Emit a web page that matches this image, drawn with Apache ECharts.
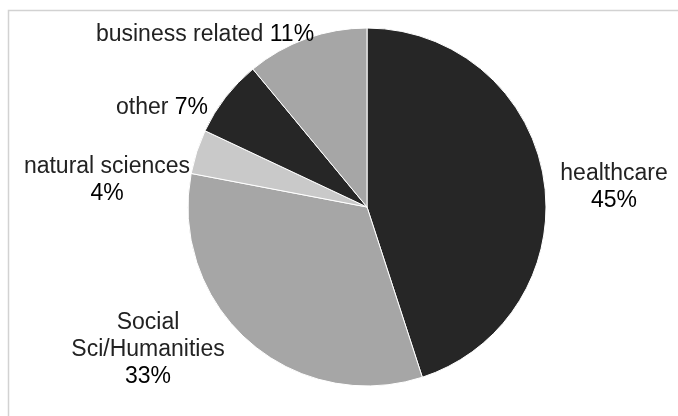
<!DOCTYPE html>
<html>
<head>
<meta charset="utf-8">
<script src="https://cdn.jsdelivr.net/npm/echarts@6/dist/echarts.min.js"></script>
<style>html,body{margin:0;padding:0;background:#fff}#c{width:678px;height:416px}</style>
</head>
<body>
<div id="c"></div>
<script>
// Data
const categories = ['healthcare', 'Social\nSci/Humanities', 'natural sciences', 'other', 'business related'];
const values = [45, 33, 4, 7, 11];
const colors = ['#262626', '#a6a6a6', '#c9c9c9', '#262626', '#a6a6a6'];
// separator between category name and percentage in each label
const pctSeparator = ['\n', '\n', '\n', ' ', ' '];

// label anchor layout (pixels)
const labelPos = [[614, 187], [148, 350], [107, 180], [162, 108], [205, 35]];

const chart = echarts.init(document.getElementById('c'), null, {renderer: 'canvas'});
chart.setOption({
  animation: false,
  graphic: [{
    type: 'rect',
    shape: {x: 8.5, y: 10.5, width: 720, height: 460},
    style: {fill: 'none', stroke: '#d2d2d2', lineWidth: 1.5},
    silent: true
  }],
  series: [{
    type: 'pie',
    center: [367, 207],
    radius: 179,
    startAngle: 90,
    clockwise: true,
    data: categories.map((c, i) => ({name: c, value: values[i], itemStyle: {color: colors[i]}})),
    itemStyle: {borderColor: '#ffffff', borderWidth: 1},
    labelLine: {show: false},
    label: {
      show: true,
      position: 'outside',
      overflow: 'none',
      formatter: p => p.name + pctSeparator[p.dataIndex] + '{b|' + values[p.dataIndex] + '%}',
      fontFamily: 'Liberation Sans, Arial, sans-serif',
      fontSize: 23,
      lineHeight: 27,
      color: '#222',
      align: 'center',
      rich: {
        b: {fontFamily: 'Liberation Sans, Arial, sans-serif', fontSize: 23, lineHeight: 27, color: '#000'}
      }
    },
    labelLayout: p => ({
      x: labelPos[p.dataIndex][0],
      y: labelPos[p.dataIndex][1],
      align: 'center',
      verticalAlign: 'middle',
      width: 300
    }),
    emphasis: {disabled: true}
  }]
});
</script>
</body>
</html>
